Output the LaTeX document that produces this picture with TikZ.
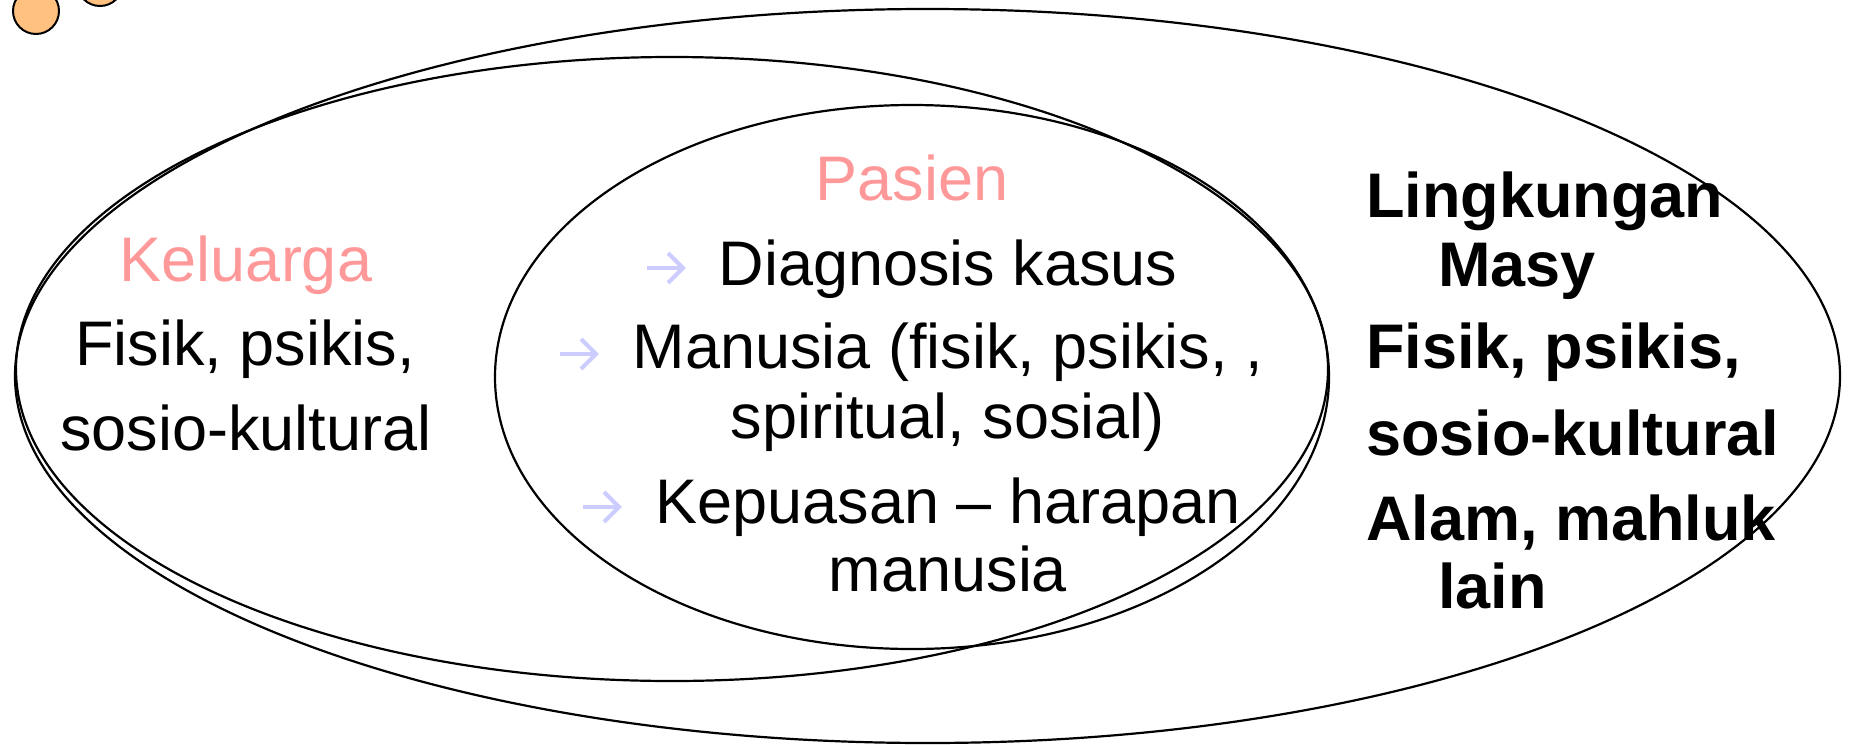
\documentclass[tikz,border=0pt]{standalone}
\usepackage{fontspec}
\setmainfont{Liberation Sans}
\definecolor{pinktxt}{HTML}{FF9999}
\definecolor{bulletcol}{HTML}{CCCCFF}
\definecolor{dotfill}{RGB}{255,192,128}
\begin{document}
\begin{tikzpicture}[x=1pt,y=-1pt,
  ring/.style={draw=black, line width=2.2pt},
  dotc/.style={draw=black, fill=dotfill, line width=2pt},
  txt/.style={font=\fontsize{63}{70}\selectfont, inner sep=0pt, anchor=base},
  txtl/.style={font=\fontsize{63}{70}\selectfont\bfseries, inner sep=0pt, anchor=base west},
  head/.style={txt, text=pinktxt},
  bul/.style={draw=bulletcol, line width=4pt},
  arw/.pic={\draw[bul] (-18,0) -- (18,0); \draw[bul] (3,-15) -- (18,0) -- (3,15);}
]
\useasboundingbox[fill=white] (0,0) rectangle (1851,744);
% decorative dots
\draw[dotc] (36,11) circle[radius=23pt];
\draw[dotc] (100,-17) circle[radius=23pt];
% ellipses
\draw[ring] (927.5,376) ellipse[x radius=912.5pt, y radius=367pt];
\draw[ring] (672,369) ellipse[x radius=656pt, y radius=312pt];
\draw[ring] (912,377) ellipse[x radius=417pt, y radius=272pt];
% Keluarga
\node[head] (kel) at (246,281) {Keluarga};
\node[txt] (kel1) at (245,365) {Fisik, psikis,};
\node[txt] (kel2) at (246,450) {sosio-kultural};
% Pasien
\node[head] (pas) at (912,200) {Pasien};
\node[txt] (p1) at (948,285) {Diagnosis kasus};
\node[txt] (p2) at (948,368) {Manusia (fisik, psikis, ,};
\node[txt] (p3) at (948,438) {spiritual, sosial)};
\node[txt] (p4) at (948,523) {Kepuasan – harapan};
\node[txt] (p5) at (948,591) {manusia};
\pic at (665,268) {arw};
\pic at (578,354) {arw};
\pic at (601,507) {arw};
% Lingkungan
\node[txtl] (l1) at (1366,217) {Lingkungan};
\node[txtl] (l2) at (1438,286) {Masy};
\node[txtl] (l3) at (1366,368) {Fisik, psikis,};
\node[txtl] (l4) at (1366,455) {sosio-kultural};
\node[txtl] (l5) at (1366,540) {Alam, mahluk};
\node[txtl] (l6) at (1438,608) {lain};
\end{tikzpicture}
\end{document}
